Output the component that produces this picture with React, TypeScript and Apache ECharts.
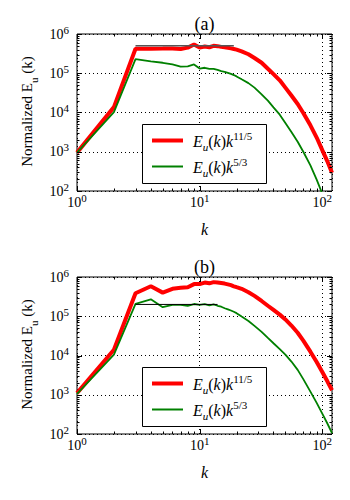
import React, { useEffect, useRef } from 'react';
import * as echarts from 'echarts';

// ---- data ----
const kValues = [1, 2, 3, 4, 5, 6, 7, 8, 9, 10, 11, 12, 13, 14, 15, 16, 17, 18, 19, 20, 22, 25, 28, 32, 36, 40, 45, 50, 56, 63, 70, 80, 90, 100, 110, 120];

// panel (a)
const redA = [950, 13700, 420000, 420000, 425000, 430000, 415000, 450000, 540000, 450000, 480000, 460000, 500000, 490000, 470000, 460000, 445000, 430000, 415000, 400000,
  360000, 305000, 245000, 185000, 130000, 95000, 66000, 43000, 27000, 16500, 9700, 4700, 2300, 1100, 570, 290];
const greenA = [950, 10200, 230000, 200000, 185000, 168000, 148000, 150000, 168000, 132000, 138000, 130000, 130000, 122000, 114000, 108000, 102000, 96000, 90000, 83000,
  70000, 56000, 43000, 29000, 20000, 13500, 8800, 5400, 3200, 1800, 1000, 450, 195, 85, 40, 20];
// panel (b)
const redB = [1100, 14000, 385000, 580000, 400000, 500000, 530000, 550000, 660000, 660000, 720000, 690000, 740000, 720000, 700000, 680000, 650000, 620000, 580000, 550000,
  500000, 410000, 330000, 245000, 185000, 145000, 110000, 83000, 58000, 38000, 24000, 12500, 6800, 3800, 2200, 1300];
const greenB = [1050, 10500, 207000, 270000, 170000, 195000, 195000, 185000, 205000, 195000, 205000, 190000, 200000, 185000, 175000, 160000, 150000, 140000, 130000, 120000,
  98000, 76000, 57000, 40000, 28000, 20500, 14500, 10500, 7000, 4300, 2500, 1200, 620, 330, 185, 105];

const refKA = [3, 19];
const refValA = [500000, 500000];
const refKB = [3, 14];
const refValB = [200000, 200000];

const panelTitles = ['(a)', '(b)'];
const yAxisTitle = ['Normalized E', 'u', ' (k)'];
const xAxisTitle = 'k';
const legendSup = ['11/5', '5/3'];

const xRange = [1, 120];
const yRange = [100, 1000000];
const xTickMajor = [1, 10, 100];
const xTickMinor = [2, 3, 4, 5, 6, 7, 8, 9, 20, 30, 40, 50, 60, 70, 80, 90];
const yTickMajor = [100, 1000, 10000, 100000, 1000000];
const yTickMinor = [200, 300, 400, 500, 600, 700, 800, 900,
  2000, 3000, 4000, 5000, 6000, 7000, 8000, 9000,
  20000, 30000, 40000, 50000, 60000, 70000, 80000, 90000,
  200000, 300000, 400000, 500000, 600000, 700000, 800000, 900000];

// ---- layout / style ----
const SERIF = 'Liberation Serif, DejaVu Serif, serif';
const GRIDS = [
  { left: 77, top: 34, width: 255, height: 157 },
  { left: 77, top: 277, width: 255, height: 157 },
];
const LEGEND_TOP = [124, 367];

const zip = (ks: number[], vs: number[]) => ks.map((k, i) => [k, vs[i]]);

function powLabel(v: number) {
  const l = Math.log10(v);
  const e = Math.round(l);
  if (Math.abs(l - e) > 1e-6) return '';
  return `{b|10}{s|${e}}`;
}

const axisRich = {
  b: { fontFamily: SERIF, fontSize: 14, color: '#000', lineHeight: 20, verticalAlign: 'middle' },
  s: { fontFamily: SERIF, fontSize: 11, color: '#000', lineHeight: 6, verticalAlign: 'top' },
};

function tickSeries(idx: number) {
  return {
    type: 'custom',
    xAxisIndex: idx,
    yAxisIndex: idx,
    silent: true,
    clip: false,
    z: 5,
    data: [[10, 1000]],
    renderItem: (params: any, api: any) => {
      const cs = params.coordSys;
      const L = cs.x, R = cs.x + cs.width, T = cs.y, B = cs.y + cs.height;
      const children: any[] = [];
      const add = (x1: number, y1: number, x2: number, y2: number) =>
        children.push({ type: 'line', shape: { x1, y1, x2, y2 }, style: { stroke: '#000', lineWidth: 1 } });
      const xt = (v: number, len: number) => {
        const x = Math.round(api.coord([v, 1000])[0]) + 0.5;
        add(x, B, x, B - len);
        add(x, T, x, T + len);
      };
      const yt = (v: number, len: number) => {
        const y = Math.round(api.coord([10, v])[1]) + 0.5;
        add(L, y, L + len, y);
        add(R, y, R - len, y);
      };
      xTickMajor.forEach((v) => xt(v, 5));
      xTickMinor.forEach((v) => xt(v, 2.5));
      yTickMajor.forEach((v) => yt(v, 5));
      yTickMinor.forEach((v) => yt(v, 2.5));
      return { type: 'group', children };
    },
  };
}

function buildOption() {
  const panels = [
    { red: redA, green: greenA, refK: refKA, refV: refValA, refColor: '#555555', refWidth: 1.5 },
    { red: redB, green: greenB, refK: refKB, refV: refValB, refColor: '#000000', refWidth: 1 },
  ];
  const splitLine = { show: true, lineStyle: { color: '#000', width: 1, type: [1, 3] } };

  const series: any[] = [];
  panels.forEach((p, i) => {
    series.push({
      type: 'line', xAxisIndex: i, yAxisIndex: i, data: zip(kValues, p.red),
      showSymbol: false, symbol: 'none', lineStyle: { color: '#ff0000', width: 4 }, itemStyle: { color: '#ff0000' }, z: 2,
    });
    series.push({
      type: 'line', xAxisIndex: i, yAxisIndex: i, data: zip(kValues, p.green),
      showSymbol: false, symbol: 'none', lineStyle: { color: '#008000', width: 1.8 }, itemStyle: { color: '#008000' }, z: 3,
    });
    series.push({
      type: 'line', xAxisIndex: i, yAxisIndex: i, data: zip(p.refK, p.refV),
      showSymbol: false, symbol: 'none', lineStyle: { color: p.refColor, width: p.refWidth }, z: 4,
    });
    series.push(tickSeries(i));
  });

  const graphic: any[] = [];
  const legendRich = {
    i: { fontFamily: SERIF, fontStyle: 'italic', fontSize: 16, lineHeight: 22, verticalAlign: 'middle', fill: '#000' },
    n: { fontFamily: SERIF, fontSize: 16, lineHeight: 22, verticalAlign: 'middle', fill: '#000' },
    sub: { fontFamily: SERIF, fontStyle: 'italic', fontSize: 11, lineHeight: 10, verticalAlign: 'bottom', fill: '#000' },
    sup: { fontFamily: SERIF, fontSize: 11, lineHeight: 6, verticalAlign: 'top', fill: '#000' },
  };
  const ylabRich = {
    n: { fontFamily: SERIF, fontSize: 15, lineHeight: 20, verticalAlign: 'top', fill: '#000' },
    sub: { fontFamily: SERIF, fontSize: 11, lineHeight: 8, verticalAlign: 'bottom', fill: '#000' },
  };

  GRIDS.forEach((g, i) => {
    const cx = g.left + g.width / 2;
    graphic.push({
      type: 'text', x: cx, y: g.top - 10.5, z: 50,
      style: { text: panelTitles[i], fontFamily: SERIF, fontSize: 18, fill: '#000', align: 'center', verticalAlign: 'middle' },
    });
    graphic.push({
      type: 'text', x: 29, y: g.top + g.height / 2 - 1, rotation: Math.PI / 2, z: 50,
      style: {
        text: `{n|${yAxisTitle[0]}}{sub|${yAxisTitle[1]}}{n|${yAxisTitle[2]}}`,
        rich: ylabRich, align: 'center', verticalAlign: 'middle',
      },
    });
    const lt = LEGEND_TOP[i];
    graphic.push({
      type: 'rect', z: 60, shape: { x: 142.5, y: lt + 0.5, width: 124, height: 59 },
      style: { fill: '#fff', stroke: '#000', lineWidth: 1 },
    });
    graphic.push({
      type: 'line', z: 61, shape: { x1: 152, y1: lt + 16.5, x2: 183, y2: lt + 16.5 },
      style: { stroke: '#ff0000', lineWidth: 4 },
    });
    graphic.push({
      type: 'line', z: 61, shape: { x1: 152, y1: lt + 42.5, x2: 183, y2: lt + 42.5 },
      style: { stroke: '#008000', lineWidth: 2 },
    });
    legendSup.forEach((sup, j) => {
      graphic.push({
        type: 'text', z: 62, x: 193, y: lt + 17 + j * 26,
        style: {
          text: `{i|E}{sub|u}{n|(}{i|k}{n|)}{i|k}{sup|${sup}}`,
          rich: legendRich, align: 'left', verticalAlign: 'middle',
        },
      });
    });
  });

  return {
    animation: false,
    backgroundColor: '#fff',
    textStyle: { fontFamily: SERIF },
    grid: GRIDS.map((g) => ({ ...g, show: true, borderColor: '#000', borderWidth: 1, backgroundColor: 'transparent' })),
    xAxis: GRIDS.map((_, i) => ({
      type: 'log', logBase: 10, gridIndex: i, min: xRange[0], max: xRange[1],
      axisLine: { show: false }, axisTick: { show: false }, splitLine,
      axisLabel: { formatter: powLabel, rich: axisRich, margin: 1, fontFamily: SERIF },
      name: xAxisTitle, nameLocation: 'middle', nameGap: 30,
      nameTextStyle: { fontFamily: SERIF, fontStyle: 'italic', fontSize: 16, color: '#000' },
    })),
    yAxis: GRIDS.map((_, i) => ({
      type: 'log', logBase: 10, gridIndex: i, min: yRange[0], max: yRange[1],
      axisLine: { show: false }, axisTick: { show: false }, splitLine,
      axisLabel: { formatter: powLabel, rich: axisRich, margin: 8, fontFamily: SERIF },
    })),
    series,
    graphic,
  };
}

export default function App() {
  const ref = useRef<HTMLDivElement>(null);
  useEffect(() => {
    document.body.style.margin = '0';
    const chart = echarts.init(ref.current!, null, { renderer: 'svg' });
    chart.setOption(buildOption() as any);
    return () => chart.dispose();
  }, []);
  return <div ref={ref} style={{ width: 350, height: 500 }} />;
}
